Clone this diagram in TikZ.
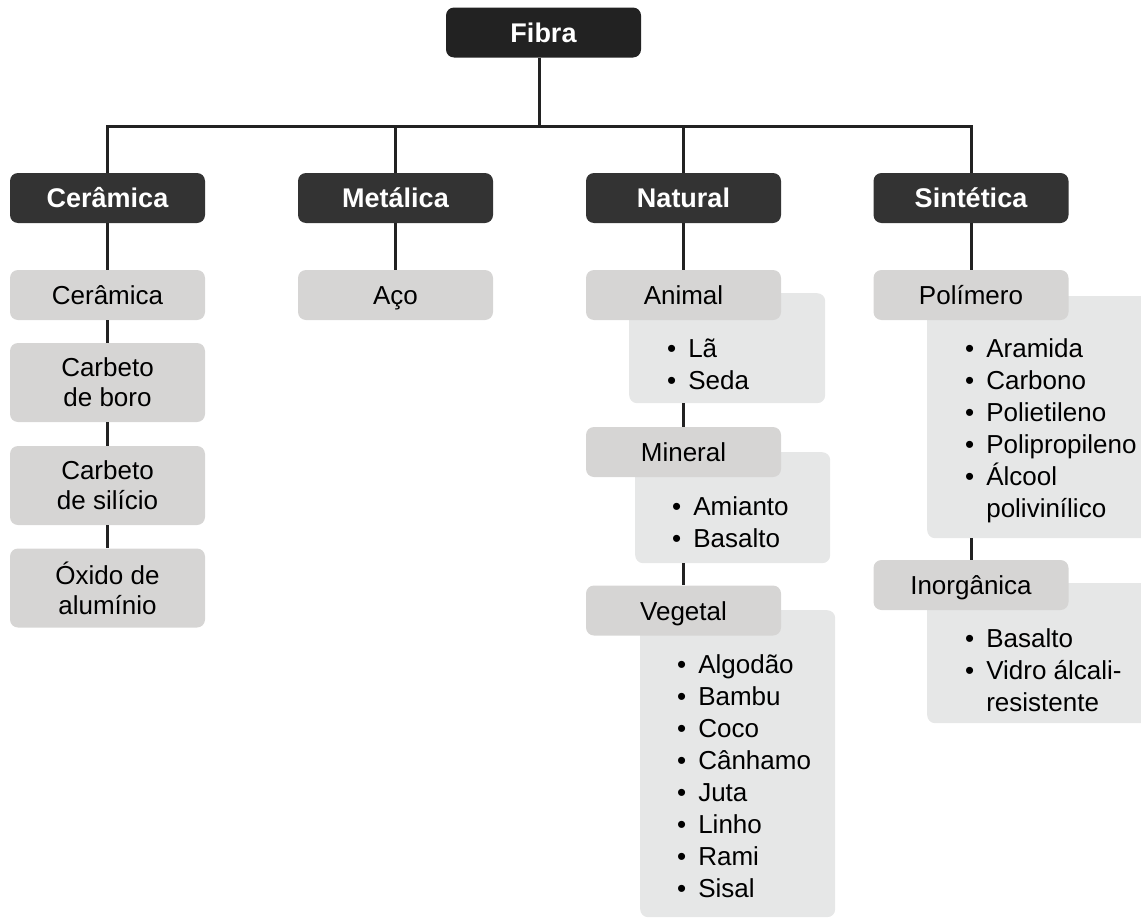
\documentclass[tikz,border=0pt]{standalone}
\usepackage{fontspec}
\setmainfont{Liberation Sans}
\usetikzlibrary{positioning,calc}

\definecolor{fibracor}{HTML}{222222}
\definecolor{catcor}{HTML}{333333}
\definecolor{cinza}{HTML}{D6D5D4}
\definecolor{claro}{HTML}{E6E7E7}
\definecolor{linha}{HTML}{222222}

\newcommand\itens[1]{\begin{tabular}{@{}l@{\hspace{12pt}}l@{}}#1\end{tabular}}

\tikzset{
  topo/.style={fill=fibracor, text=white, font=\bfseries\fontsize{27}{32}\selectfont,
    rounded corners=8pt, minimum width=195pt, minimum height=50pt, inner sep=0pt,
    text height=19pt, text depth=0pt},
  cat/.style={topo, fill=catcor},
  sub/.style={fill=cinza, font=\fontsize{26}{30}\selectfont, rounded corners=8pt,
    minimum width=195pt, minimum height=50pt, inner sep=0pt, text height=19pt, text depth=0pt},
  sub2/.style={fill=cinza, font=\fontsize{26}{30}\selectfont, rounded corners=8pt,
    minimum width=195pt, minimum height=79pt, inner sep=0pt, align=center},
  caixa/.style={fill=claro, rounded corners=8pt, inner sep=0pt, anchor=north west},
  lista/.style={anchor=north west, inner sep=0pt, font=\fontsize{26}{32}\selectfont},
  liga/.style={draw=linha, line width=3pt}
}

\begin{document}
\begin{tikzpicture}[x=1pt,y=-1pt]
  \useasboundingbox (0,0) rectangle (1141,918);

  % raiz e categorias
  \node[topo] (fibra) at (543.5,32.5) {Fibra};
  \coordinate (bar) at (539,126.5);
  \node[cat] (ceramica)  at (107.5,198) {Cerâmica};
  \node[cat] (metalica)  at (395.5,198) {Metálica};
  \node[cat] (natural)   at (683.5,198) {Natural};
  \node[cat] (sintetica) at (971,198)   {Sintética};

  % cerâmica
  \node[sub]  (cer1) at (107.5,295)   {Cerâmica};
  \node[sub2] (cer2) at (107.5,382.5) {Carbeto\\de boro};
  \node[sub2] (cer3) at (107.5,485.5) {Carbeto\\de silício};
  \node[sub2] (cer4) at (107.5,588)   {Óxido de\\alumínio};

  % metálica
  \node[sub] (aco) at (395.5,295) {Aço};

  % natural
  \node[caixa, minimum width=196pt, minimum height=110pt] (animalB) at (629,293) {};
  \node[lista] (animalL) at (667,334.6) {\itens{\textbullet & Lã\\ \textbullet & Seda}};
  \node[sub] (animal) at (683.5,295) {Animal};

  \node[caixa, minimum width=195pt, minimum height=111pt] (mineralB) at (635,452) {};
  \node[lista] (mineralL) at (672,492.6) {\itens{\textbullet & Amianto\\ \textbullet & Basalto}};
  \node[sub] (mineral) at (683.5,452) {Mineral};

  \node[caixa, minimum width=195pt, minimum height=307pt] (vegetalB) at (640,610) {};
  \node[lista] (vegetalL) at (677,650.6) {\itens{\textbullet & Algodão\\ \textbullet & Bambu\\
    \textbullet & Coco\\ \textbullet & Cânhamo\\ \textbullet & Juta\\ \textbullet & Linho\\
    \textbullet & Rami\\ \textbullet & Sisal}};
  \node[sub] (vegetal) at (683.5,610.5) {Vegetal};

  % sintética
  \node[caixa, minimum width=225pt, minimum height=242pt] (polimeroB) at (927,296) {};
  \node[lista] (polimeroL) at (965,334.6) {\itens{\textbullet & Aramida\\ \textbullet & Carbono\\
    \textbullet & Polietileno\\ \textbullet & Polipropileno\\ \textbullet & Álcool\\ & polivinílico}};
  \node[sub] (polimero) at (971,295) {Polímero};

  \node[caixa, minimum width=225pt, minimum height=140pt] (inorgB) at (927,583) {};
  \node[lista] (inorgL) at (965,624.6) {\itens{\textbullet & Basalto\\ \textbullet & Vidro álcali-\\ & resistente}};
  \node[sub] (inorganica) at (971,585) {Inorgânica};

  % ligações
  \draw[liga] (fibra.south -| bar) -- (bar);
  \draw[liga] (ceramica.north) -- (ceramica.north |- bar) -- (sintetica.north |- bar) -- (sintetica.north);
  \draw[liga] (metalica.north) -- (metalica.north |- bar);
  \draw[liga] (natural.north) -- (natural.north |- bar);
  \draw[liga] (ceramica) -- (cer1);
  \draw[liga] (cer1) -- (cer2);
  \draw[liga] (cer2) -- (cer3);
  \draw[liga] (cer3) -- (cer4);
  \draw[liga] (metalica) -- (aco);
  \draw[liga] (natural) -- (animal);
  \draw[liga] (animalB.south -| animal) -- (mineral);
  \draw[liga] (mineralB.south -| mineral) -- (vegetal);
  \draw[liga] (sintetica) -- (polimero);
  \draw[liga] (polimeroB.south -| polimero) -- (inorganica);
\end{tikzpicture}
\end{document}
